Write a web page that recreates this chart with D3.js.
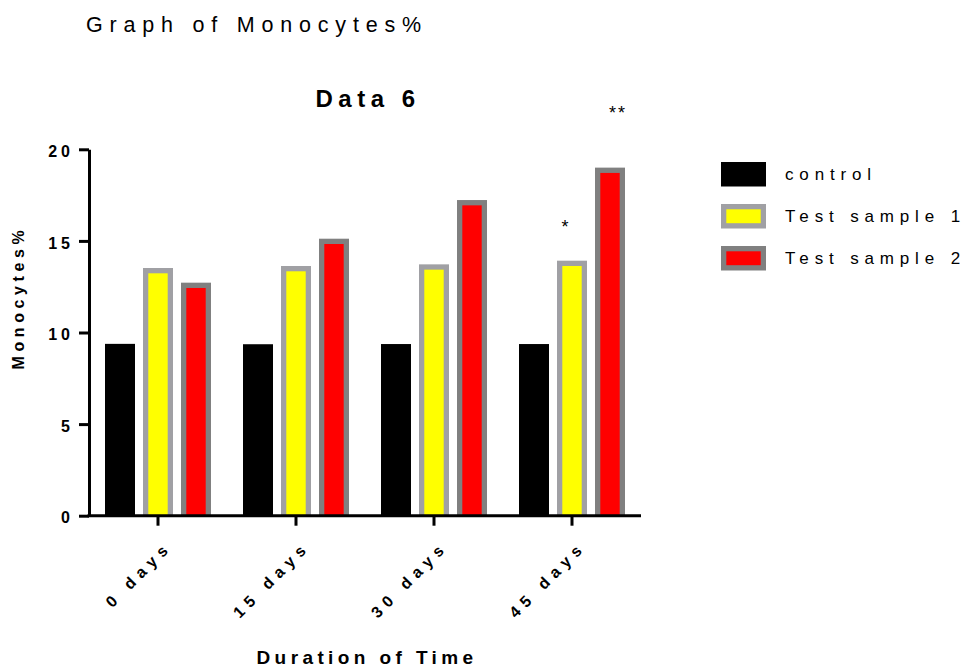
<!DOCTYPE html>
<html>
<head>
<meta charset="utf-8">
<script src="https://cdn.jsdelivr.net/npm/d3@7"></script>
<style>
  body { margin: 0; background: #fff; }
  text { font-family: "Liberation Sans", Arial, sans-serif; }
</style>
</head>
<body>
<div id="chart"></div>
<script>
// data
const groups = ["0 days", "15 days", "30 days", "45 days"];
const seriesNames = ["control", "Test sample 1", "Test sample 2"];
const control = [9.38, 9.36, 9.37, 9.37];
const testSample1 = [13.52, 13.63, 13.72, 13.92];
const testSample2 = [12.72, 15.12, 17.23, 19.0];
const yTicks = [0, 5, 10, 15, 20];
// significance marks: group, series, text
const marks = [
  {group: "45 days", series: "Test sample 1", text: "*"},
  {group: "45 days", series: "Test sample 2", text: "**"}
];

const fills = {"control": "#000000", "Test sample 1": "#ffff00", "Test sample 2": "#ff0000"};
const borders = {"control": null, "Test sample 1": "#a0a0a4", "Test sample 2": "#808080"};
const borderW = 5.3;

const valuesBySeries = {
  "control": control,
  "Test sample 1": testSample1,
  "Test sample 2": testSample2
};

const rows = [];
groups.forEach((g, i) => {
  seriesNames.forEach(s => rows.push({group: g, series: s, value: valuesBySeries[s][i]}));
});

const W = 969, H = 670;
const plot = {left: 89, right: 641, top: 149.3, bottom: 515.7};

const svg = d3.select("#chart").append("svg")
  .attr("width", W)
  .attr("height", H);

const x0 = d3.scaleBand()
  .domain(groups)
  .range([plot.left, plot.right]);

const x1 = d3.scaleBand()
  .domain(seriesNames)
  .range([0, x0.bandwidth()])
  .paddingInner(8 / 38)
  .paddingOuter(0.421);

const y = d3.scaleLinear()
  .domain([0, 20])
  .range([plot.bottom, plot.top]);

// bars
const bars = svg.append("g").selectAll("g")
  .data(rows)
  .enter()
  .append("g");

bars.append("rect")
  .attr("x", d => x0(d.group) + x1(d.series))
  .attr("y", d => y(d.value))
  .attr("width", x1.bandwidth())
  .attr("height", d => y(0) - y(d.value))
  .attr("fill", d => borders[d.series] || fills[d.series]);

// inner fill for bordered bars
bars.filter(d => borders[d.series])
  .append("rect")
  .attr("x", d => x0(d.group) + x1(d.series) + borderW)
  .attr("y", d => y(d.value) + borderW)
  .attr("width", x1.bandwidth() - 2 * borderW)
  .attr("height", d => y(0) - y(d.value) - borderW)
  .attr("fill", d => fills[d.series]);

// axes
const yAxis = svg.append("g")
  .attr("transform", `translate(${plot.left},0)`)
  .call(d3.axisLeft(y).tickValues(yTicks).tickSize(10).tickSizeOuter(0).tickPadding(5));

yAxis.selectAll("path, line").attr("stroke", "#000").attr("stroke-width", 3);
yAxis.selectAll("text")
  .attr("font-size", 16)
  .attr("font-weight", "bold")
  .attr("letter-spacing", 4)
  .attr("fill", "#000")
  .attr("dy", "0.45em");

const xAxis = svg.append("g")
  .attr("transform", `translate(0,${plot.bottom})`)
  .call(d3.axisBottom(x0).tickSize(10).tickSizeOuter(0));

xAxis.select(".domain").attr("d", `M${plot.left - 1.5},0H${plot.right}`);
xAxis.selectAll("path, line").attr("stroke", "#000").attr("stroke-width", 3);
xAxis.selectAll("text")
  .attr("font-size", 16)
  .attr("font-weight", "bold")
  .attr("letter-spacing", 6)
  .attr("fill", "#000")
  .attr("text-anchor", "end")
  .attr("y", 0)
  .attr("dy", 0)
  .attr("transform", "translate(15,32) rotate(-45)");

// significance marks
svg.append("g").selectAll("text")
  .data(marks)
  .enter()
  .append("text")
  .attr("x", d => x0(d.group) + x1(d.series) + x1.bandwidth() / 2 + (d.text === "*" ? -6 : 8))
  .attr("y", d => {
    const v = valuesBySeries[d.series][groups.indexOf(d.group)];
    return y(v) - (d.text === "*" ? 28 : 49);
  })
  .attr("text-anchor", "middle")
  .attr("font-size", 18)
  .attr("letter-spacing", 2)
  .text(d => d.text);

// titles
svg.append("text")
  .attr("x", 86)
  .attr("y", 31.5)
  .attr("font-size", 21.5)
  .attr("letter-spacing", 6.8)
  .text("Graph of Monocytes%");

svg.append("text")
  .attr("x", (plot.left + plot.right) / 2 + 3)
  .attr("y", 106.5)
  .attr("text-anchor", "middle")
  .attr("font-size", 24)
  .attr("font-weight", "bold")
  .attr("letter-spacing", 5.5)
  .text("Data 6");

svg.append("text")
  .attr("x", (plot.left + plot.right) / 2 + 2)
  .attr("y", 664)
  .attr("text-anchor", "middle")
  .attr("font-size", 19)
  .attr("font-weight", "bold")
  .attr("letter-spacing", 4.4)
  .text("Duration of Time");

svg.append("text")
  .attr("transform", `translate(23.5,${297.6}) rotate(-90)`)
  .attr("text-anchor", "middle")
  .attr("font-size", 16)
  .attr("font-weight", "bold")
  .attr("letter-spacing", 4.6)
  .text("Monocytes%");

// legend
const legend = svg.append("g")
  .attr("transform", "translate(721,162)");

const items = legend.selectAll("g")
  .data(seriesNames)
  .enter()
  .append("g")
  .attr("transform", (d, i) => `translate(0, ${i * 42})`);

items.append("rect")
  .attr("width", 45)
  .attr("height", 24.5)
  .attr("fill", d => borders[d] || fills[d]);

items.filter(d => borders[d])
  .append("rect")
  .attr("x", borderW)
  .attr("y", borderW)
  .attr("width", 45 - 2 * borderW)
  .attr("height", 24.5 - 2 * borderW)
  .attr("fill", d => fills[d]);

items.append("text")
  .attr("x", 64)
  .attr("y", 12.25)
  .attr("dy", "0.36em")
  .attr("font-size", 17)
  .attr("letter-spacing", 5.85)
  .text(d => d);
</script>
</body>
</html>
